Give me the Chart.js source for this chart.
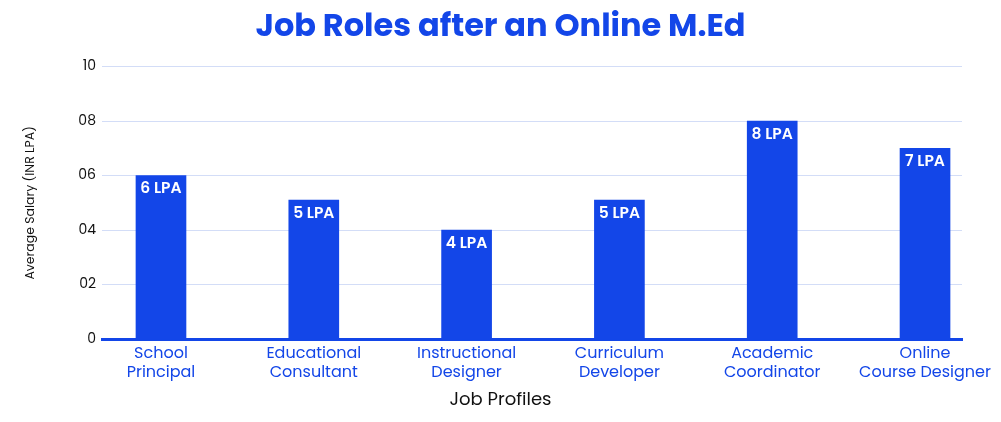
<!DOCTYPE html>
<html>
<head>
<meta charset="utf-8">
<script src="https://cdn.jsdelivr.net/npm/chart.js@4"></script>
<style>
html,body{margin:0;padding:0;background:#fff;}
#wrap{width:1001px;height:422px;}
</style>
</head>
<body>
<div id="wrap"><canvas id="c" width="1001" height="422"></canvas></div>
<script>
const categories = [['School','Principal'],['Educational','Consultant'],['Instructional','Designer'],['Curriculum','Developer'],['Academic','Coordinator'],['Online','Course Designer']];
const salaries = [6, 5.1, 4, 5.1, 8, 7];
const barLabels = ['6 LPA','5 LPA','4 LPA','5 LPA','8 LPA','7 LPA'];
const yTickLabels = ['0','02','04','06','08','10'];

const BLUE = '#1346E8';
const FONT = 'Poppins, Inter, "Open Sans", sans-serif';

const barLabelPlugin = {
  id: 'barLabels',
  afterDatasetsDraw(chart) {
    const ctx = chart.ctx;
    const meta = chart.getDatasetMeta(0);
    ctx.save();
    ctx.fillStyle = '#ffffff';
    ctx.font = '600 15.5px ' + FONT;
    ctx.textAlign = 'center';
    ctx.textBaseline = 'middle';
    meta.data.forEach((bar, i) => {
      ctx.fillText(barLabels[i], bar.x, bar.y + 14);
    });
    ctx.restore();
  }
};

new Chart(document.getElementById('c'), {
  type: 'bar',
  data: {
    datasets: [{
      data: salaries.map((v, i) => ({x: i, y: v})),
      backgroundColor: BLUE,
      borderWidth: 0,
      barThickness: 50
    }]
  },
  options: {
    responsive: false,
    animation: false,
    layout: {padding: 0},
    plugins: {
      legend: {display: false},
      tooltip: {enabled: false},
      title: {
        display: true,
        text: 'Job Roles after an Online M.Ed',
        color: BLUE,
        font: {family: FONT, size: 32, weight: 'bold'},
        padding: {top: 9, bottom: 19}
      },
      subtitle: {
        display: true,
        position: 'bottom',
        text: 'Job Profiles',
        color: '#111111',
        font: {family: FONT, size: 18},
        padding: {top: 0, bottom: 11}
      }
    },
    scales: {
      x: {
        type: 'linear',
        offset: false,
        min: -0.386,
        max: 5.242,
        afterBuildTicks(scale) {
          scale.ticks = categories.map((c, i) => ({value: i}));
        },
        afterFit(scale) { scale.height = 50; },
        ticks: {
          autoSkip: false,
          maxRotation: 0,
          color: BLUE,
          font: {family: FONT, size: 16},
          padding: 5,
          callback: (v) => categories[v]
        },
        grid: {display: false, drawTicks: false},
        border: {display: true, color: BLUE, width: 3}
      },
      y: {
        min: 0,
        max: 10,
        afterFit(scale) { scale.width = 102; },
        ticks: {
          stepSize: 2,
          color: '#111111',
          font: {family: FONT, size: 14},
          padding: 6,
          callback: (v) => yTickLabels[v / 2]
        },
        grid: {color: '#D3DDF7', lineWidth: 1, drawTicks: false},
        border: {display: false},
        title: {
          display: true,
          text: 'Average Salary (INR LPA)',
          color: '#111111',
          font: {family: FONT, size: 12.5},
          padding: {top: 23, bottom: 0}
        }
      },
      yRight: {
        position: 'right',
        display: true,
        min: 0,
        max: 10,
        afterFit(scale) { scale.width = 39; },
        ticks: {display: false},
        grid: {display: false, drawTicks: false},
        border: {display: false}
      }
    }
  },
  plugins: [barLabelPlugin]
});
</script>
</body>
</html>
